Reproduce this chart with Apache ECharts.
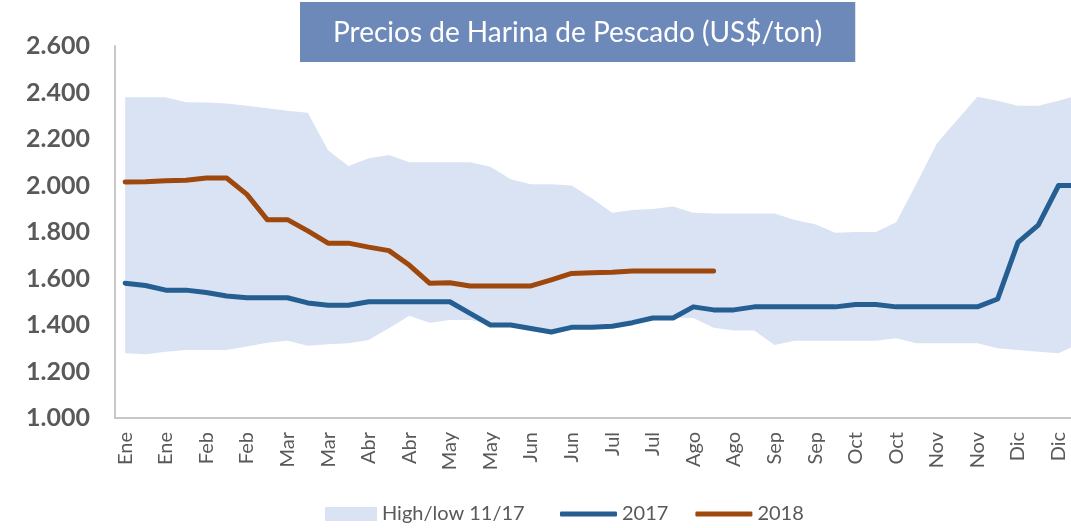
<!DOCTYPE html>
<html>

<head>
    <meta charset="utf-8">
    <script src="https://cdn.jsdelivr.net/npm/echarts@6.0.0/dist/echarts.min.js"></script>
    <style>
        html, body {
            margin: 0;
            padding: 0;
            background: #fff;
        }

        #chart {
            width: 1071px;
            height: 528px;
        }
    </style>
</head>

<body>
    <div id="chart"></div>
    <script>
        // semanas: 4 por mes, se etiqueta una de cada dos
        var months = ['Ene', 'Feb', 'Mar', 'Abr', 'May', 'Jun', 'Jul', 'Ago', 'Sep', 'Oct', 'Nov', 'Dic'];
        var weeks = [];
        months.forEach(function (m) { weeks.push(m, m, m, m); });

        var high1117 = [2380, 2380, 2380, 2358, 2357, 2353, 2343, 2332, 2322, 2313, 2152, 2084,
            2117, 2131, 2100, 2100, 2100, 2100, 2081, 2027, 2005, 2005, 2000, 1945,
            1883, 1895, 1899, 1910, 1883, 1880, 1880, 1880, 1880, 1852, 1833, 1797,
            1800, 1800, 1842, 2009, 2181, 2282, 2382, 2365, 2343, 2343, 2365, 2388];
        var low1117 = [1278, 1274, 1285, 1292, 1292, 1292, 1307, 1324, 1332, 1311, 1317, 1321,
            1335, 1386, 1440, 1410, 1421, 1421, 1405, 1405, 1388, 1373, 1393, 1393,
            1397, 1412, 1432, 1432, 1430, 1388, 1376, 1376, 1314, 1332, 1332, 1332,
            1332, 1332, 1343, 1321, 1321, 1321, 1321, 1300, 1292, 1285, 1278, 1320];
        var y2017 = [1580, 1570, 1550, 1550, 1540, 1525, 1517, 1517, 1517, 1495, 1485, 1485,
            1500, 1500, 1500, 1500, 1500, 1450, 1400, 1400, 1385, 1370, 1390, 1390,
            1395, 1410, 1430, 1430, 1478, 1465, 1465, 1478, 1478, 1478, 1478, 1478,
            1488, 1488, 1478, 1478, 1478, 1478, 1478, 1512, 1755, 1830, 2000, 2000];
        var y2018 = [2015, 2016, 2020, 2023, 2032, 2032, 1962, 1853, 1853, 1805, 1752, 1752,
            1735, 1720, 1658, 1580, 1582, 1568, 1568, 1568, 1568, 1594, 1622, 1625,
            1627, 1632, 1632, 1632, 1632, 1632];

        var bandSpan = high1117.map(function (v, i) { return v - low1117[i]; });

        var grey = '#595959';
        var font = 'Lato';

        var myChart = echarts.init(document.getElementById('chart'));
        var option = {
            backgroundColor: '#fff',
            animation: false,
            title: {
                text: 'Precios de Harina de Pescado (US$/ton)',
                left: 300,
                top: 2,
                padding: [15, 33, 13, 33],
                backgroundColor: '#6D89B9',
                textStyle: {
                    color: '#fff',
                    fontFamily: font,
                    fontWeight: 'normal',
                    fontSize: 28,
                    lineHeight: 32
                }
            },
            legend: [{
                data: [{ name: 'High/low 11/17', icon: 'rect' }],
                left: 325,
                top: 504,
                padding: 0,
                itemWidth: 52,
                itemHeight: 14,
                itemGap: 27,
                textStyle: { color: grey, fontFamily: font, fontSize: 20 }
            }, {
                data: [{ name: '2017', icon: 'roundRect' }, { name: '2018', icon: 'roundRect' }],
                left: 560,
                top: 504,
                padding: 0,
                itemWidth: 57,
                itemHeight: 5,
                itemGap: 27,
                textStyle: { color: grey, fontFamily: font, fontSize: 20 }
            }],
            grid: {
                left: 115,
                right: -18,
                top: 46,
                bottom: 110,
                outerBoundsMode: 'none'
            },
            xAxis: {
                type: 'category',
                data: weeks,
                boundaryGap: true,
                axisLine: { lineStyle: { color: '#C8C8C8', width: 2 } },
                axisTick: { show: false },
                axisLabel: {
                    interval: 1,
                    rotate: 90,
                    margin: 14,
                    color: grey,
                    fontFamily: font,
                    fontSize: 20
                },
                splitLine: { show: false }
            },
            yAxis: {
                type: 'value',
                min: 1000,
                max: 2600,
                interval: 200,
                axisLine: { show: true, lineStyle: { color: '#C8C8C8', width: 2 } },
                axisTick: { show: false },
                splitLine: { show: false },
                axisLabel: {
                    margin: 25,
                    color: grey,
                    fontFamily: font,
                    fontWeight: 'bold',
                    fontSize: 25,
                    formatter: function (v) {
                        return String(v).replace(/\B(?=(\d{3})+(?!\d))/g, '.');
                    }
                }
            },
            series: [
                {
                    name: 'low',
                    type: 'line',
                    stack: 'band',
                    data: low1117,
                    showSymbol: false,
                    lineStyle: { width: 0, opacity: 0 },
                    silent: true
                },
                {
                    name: 'High/low 11/17',
                    type: 'line',
                    stack: 'band',
                    data: bandSpan,
                    showSymbol: false,
                    color: '#DAE3F3',
                    lineStyle: { width: 0, opacity: 0 },
                    areaStyle: { color: '#DAE3F3', opacity: 1 }
                },
                {
                    name: '2017',
                    type: 'line',
                    data: y2017,
                    showSymbol: false,
                    color: '#255E91',
                    lineStyle: { width: 5, color: '#255E91', cap: 'round', join: 'round' }
                },
                {
                    name: '2018',
                    type: 'line',
                    data: y2018,
                    showSymbol: false,
                    color: '#9E480E',
                    lineStyle: { width: 5, color: '#9E480E', cap: 'round', join: 'round' }
                }
            ]
        };

        myChart.setOption(option);
        window.onresize = myChart.resize;
    </script>
</body>

</html>
